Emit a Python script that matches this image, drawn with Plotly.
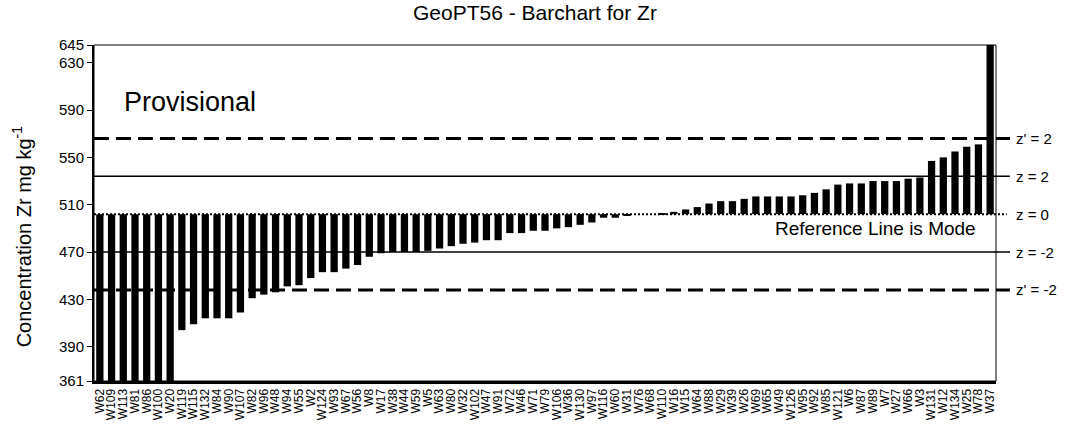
import plotly.graph_objects as go

# Laboratory codes, sorted by reported value
labs = ["W62", "W109", "W113", "W81", "W86", "W100", "W20", "W119", "W115", "W132",
        "W84", "W90", "W107", "W82", "W96", "W48", "W94", "W55", "W2", "W124",
        "W93", "W67", "W56", "W8", "W17", "W38", "W44", "W59", "W5", "W63",
        "W80", "W32", "W102", "W47", "W91", "W72", "W46", "W71", "W79", "W106",
        "W36", "W130", "W97", "W116", "W60", "W31", "W76", "W68", "W110", "W16",
        "W15", "W64", "W88", "W29", "W39", "W26", "W69", "W65", "W49", "W126",
        "W95", "W92", "W85", "W121", "W6", "W87", "W89", "W7", "W27", "W66",
        "W3", "W131", "W12", "W134", "W25", "W78", "W37"]

# Reported Zr concentrations (mg/kg)
values = [300, 320, 330, 338, 345, 350, 355, 404, 409, 414,
          414, 414, 419, 431, 434, 436, 441, 442, 448, 453,
          453, 456, 459, 466, 469, 470, 470, 470, 471, 473,
          475, 477, 478, 480, 480, 486, 486, 488, 488, 490,
          491, 493, 495, 499, 499, 501, 502, 502, 503, 504,
          506, 508, 511, 513, 513, 515, 517, 517, 517, 517,
          518, 520, 523, 527, 528, 528, 530, 530, 530, 532,
          533, 547, 550, 555, 559, 561, 690]

mode = 502            # assigned value (reference line)
z_lines = [534, 470]  # z = 2, z = -2
zp_lines = [566, 438] # z' = 2, z' = -2

y_ticks = [361, 390, 430, 470, 510, 550, 590, 630, 645]
y_min, y_max = 361, 645

font = "Liberation Sans, Arial, sans-serif"

fig = go.Figure()
fig.add_trace(go.Bar(
    x=labs,
    y=[v - mode for v in values],
    base=mode,
    marker=dict(color="black", line=dict(width=0)),
    hoverinfo="x+text",
    text=[str(v) for v in values],
    textposition="none",
))

shapes = []
x_end = 1.0155
for yv in zp_lines:
    shapes.append(dict(type="line", xref="paper", yref="y", x0=0, x1=x_end, y0=yv, y1=yv,
                       line=dict(color="black", width=3, dash="15px,7px"), layer="above"))
for yv in z_lines:
    shapes.append(dict(type="line", xref="paper", yref="y", x0=0, x1=x_end, y0=yv, y1=yv,
                       line=dict(color="black", width=1.5), layer="above"))
shapes.append(dict(type="line", xref="paper", yref="y", x0=0, x1=1.012, y0=mode, y1=mode,
                   line=dict(color="black", width=2, dash="2px,2px"), layer="above"))
# thin frame on top and right
shapes.append(dict(type="rect", xref="paper", yref="paper", x0=0, x1=1, y0=0, y1=1,
                   line=dict(color="black", width=1), layer="above"))

annotations = [
    dict(text="Provisional", xref="paper", yref="paper", x=0.031, y=0.83,
         xanchor="left", yanchor="middle", showarrow=False,
         font=dict(family=font, size=27, color="black")),
    dict(text="Reference Line is Mode", xref="paper", yref="y", x=0.98, y=mode,
         xanchor="right", yanchor="top", showarrow=False, yshift=-2,
         font=dict(family=font, size=19, color="black")),
    dict(text="Concentration Zr mg kg<sup>-1</sup>", xref="paper", yref="paper",
         x=-0.08, y=0.43, xanchor="center", yanchor="middle", textangle=-90,
         showarrow=False, font=dict(family=font, size=20, color="black")),
]
side_labels = [(zp_lines[0], "z' = 2"), (z_lines[0], "z = 2"), (mode, "z = 0"),
               (z_lines[1], "z = -2"), (zp_lines[1], "z' = -2")]
for yv, txt in side_labels:
    annotations.append(dict(text=txt, xref="paper", yref="y", x=1.02, y=yv,
                            xanchor="left", yanchor="middle", showarrow=False,
                            font=dict(family=font, size=15, color="black")))

fig.update_layout(
    width=1070, height=428,
    margin=dict(l=94, r=74, t=45, b=47, autoexpand=False),
    paper_bgcolor="white", plot_bgcolor="white",
    title=dict(text="GeoPT56 - Barchart for Zr", x=0.5, xref="container",
               y=0.97, yref="container", yanchor="middle",
               font=dict(family=font, size=21, color="black")),
    bargap=0.38,
    showlegend=False,
    shapes=shapes,
    annotations=annotations,
    xaxis=dict(type="category", range=[-0.5, len(labs) - 0.5], tickangle=-90,
               tickmode="linear", tick0=0, dtick=1, automargin=False,
               tickfont=dict(family=font, size=12, color="black"),
               showline=True, linecolor="black", linewidth=3,
               showgrid=False, ticks="", zeroline=False, fixedrange=True),
    yaxis=dict(range=[y_min, y_max], tickvals=y_ticks, ticktext=[str(t) for t in y_ticks],
               tickfont=dict(family=font, size=15, color="black"), automargin=False,
               showline=True, linecolor="black", linewidth=2,
               ticks="outside", ticklen=5, tickcolor="black", tickwidth=1,
               showgrid=False, zeroline=False, fixedrange=True),
)

fig.write_html("out.html")
